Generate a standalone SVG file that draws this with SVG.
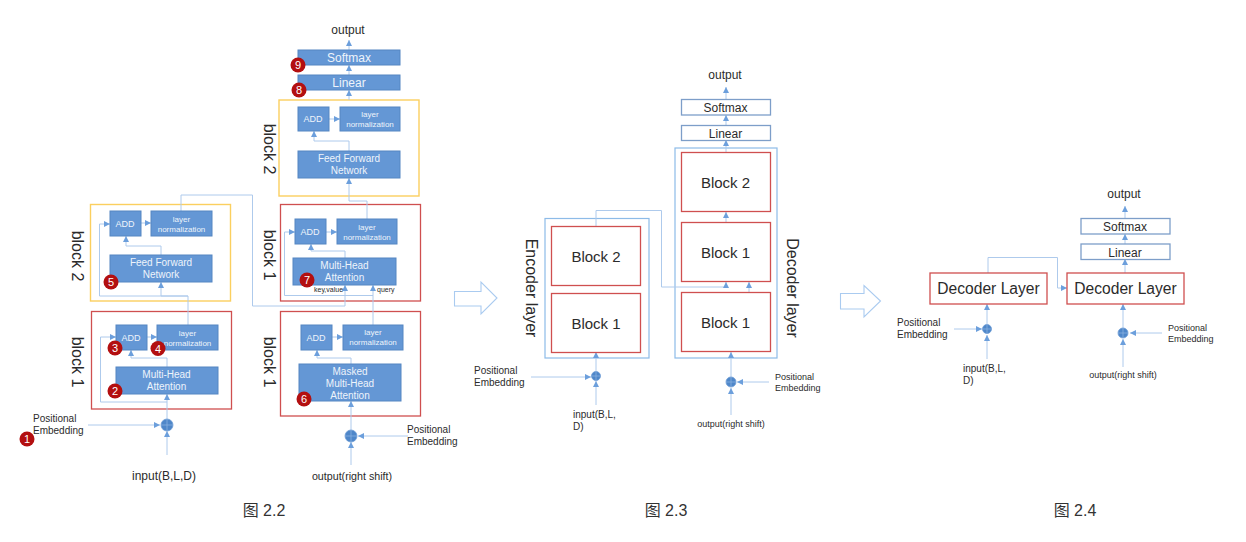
<svg xmlns="http://www.w3.org/2000/svg" width="1246" height="542" viewBox="0 0 1246 542">
<style>
text{font-family:"Liberation Sans","Noto Sans CJK SC",sans-serif;fill:#2b2b2b}
.c{text-anchor:middle}
.b{fill:#6497d5;stroke:#5586c2;stroke-width:1}
.b+text,.w{fill:#eef4fb;text-anchor:middle}
.y{fill:none;stroke:#fbcf5f;stroke-width:1.4}
.r{fill:#fff;stroke:#cf4f4f;stroke-width:1.3}
.rn{fill:none;stroke:#cf4f4f;stroke-width:1.3}
.o{fill:#fff;stroke:#7d9ec9;stroke-width:1.3}
.e{fill:none;stroke:#8dbbe8;stroke-width:1.2}
.h{fill:none;stroke:#aacbf0;stroke-width:1.1}
.l{fill:none;stroke:#aecaec;stroke-width:1}
.a{marker-end:url(#m)}
.p{fill:#4f87c9;stroke:#6f9dd6;stroke-width:.8}
.x{stroke:#8fb4e2;stroke-width:.7}
.d{fill:#b30f10}
.n{fill:#fff;font-size:11px;text-anchor:middle}
.s8{font-size:8px}.s9{font-size:9px}.s10{font-size:10px}.s12{font-size:12px}.s15{font-size:15px}.s155{font-size:15.600px}.s16{font-size:16px}
.t{fill:#333}
</style>
<defs>
<marker id="m" markerUnits="userSpaceOnUse" markerWidth="7" markerHeight="6" refX="6" refY="3" orient="auto"><path d="M0 0L6 3L0 6Z" fill="#6c9fdc"/></marker>
</defs>

<g id="containers">
<rect class="y" x="90.500" y="204.500" width="140" height="96.500"/>
<rect class="rn" x="91.500" y="311.500" width="140" height="97.500"/>
<rect class="y" x="279" y="100" width="140" height="96"/>
<rect class="rn" x="280.500" y="204.500" width="140" height="96.500"/>
<rect class="rn" x="280.500" y="311.500" width="140" height="104.500"/>
<rect class="e" x="545" y="218.500" width="104" height="139.500"/>
<rect class="e" x="675" y="148" width="102" height="210"/>
<path id="step-arrow-1" class="h" d="M454.500 291.500H481V282L497 298L481 314V306H454.500Z"/>
<path id="step-arrow-2" class="h" d="M840.500 293.500H864V285.500L880.500 301L864 317V309H840.500Z"/>
</g>

<g id="connectors">
<path class="l a" d="M167 455V431"/>
<path class="l a" d="M88 425H160"/>
<path class="l a" d="M167 419V394"/>
<path class="l a" d="M167 402H100.500V337H116"/>
<path class="l a" d="M147 337H157"/>
<path class="l a" d="M167 367V358H131V350"/>
<path class="l a" d="M188 325V296H161V282"/>
<path class="l a" d="M188 296H99.500V224H110"/>
<path class="l a" d="M161 255V246H126V236"/>
<path class="l a" d="M141 223H151"/>
<path class="l a" d="M181 211V195H252.500V306H345V285"/>
<path class="l a" d="M351 465V442"/>
<path class="l a" d="M408 436H358"/>
<path class="l a" d="M351 430V401"/>
<path class="l a" d="M351 364V358H317V350"/>
<path class="l a" d="M332 337H343"/>
<path class="l a" d="M373 325V285"/>
<path class="l a" d="M373 295.500H284.500V232H295"/>
<path class="l a" d="M326 232H337"/>
<path class="l a" d="M345 258V251H311V244"/>
<path class="l a" d="M367 219V201H349V178"/>
<path class="l a" d="M349 151V141H314V131"/>
<path class="l a" d="M329 119H340"/>
<path class="l a" d="M349 100V90"/>
<path class="l a" d="M349 75V65"/>
<path class="l a" d="M349 50V40"/>
<path class="l a" d="M596 405V381"/>
<path class="l a" d="M531 377H591"/>
<path class="l a" d="M596 371V352"/>
<path class="l a" d="M596 226V210.500H661.500V287H726V282"/>
<path class="l a" d="M749 292V282"/>
<path class="l a" d="M726 222V212"/>
<path class="l a" d="M726 152V140"/>
<path class="l a" d="M726 125V115"/>
<path class="l a" d="M726 99V87"/>
<path class="l a" d="M731 415V388"/>
<path class="l a" d="M769 382H737"/>
<path class="l a" d="M731 377V352"/>
<path class="l a" d="M987 359V335"/>
<path class="l a" d="M954 329H982"/>
<path class="l a" d="M987 324V304"/>
<path class="l a" d="M988 273V257.500H1057.500V288H1067"/>
<path class="l a" d="M1123 367V339"/>
<path class="l a" d="M1162 333H1130"/>
<path class="l a" d="M1123 328V304"/>
<path class="l a" d="M1125 273V259"/>
<path class="l a" d="M1125 244V234"/>
<path class="l a" d="M1125 218V206"/>
</g>

<g id="fig22-encoder">
<g id="e-add2"><rect class="b" x="110" y="211" width="31" height="25"/><text class="s9" x="125" y="227">ADD</text></g>
<g id="e-norm2"><rect class="b" x="151" y="211" width="61" height="25"/><text class="s8" x="181.500" y="221.500"><tspan x="181.500">layer</tspan><tspan x="181.500" dy="10">normalization</tspan></text></g>
<g id="e-ffn"><rect class="b" x="110" y="255" width="102" height="27"/><text class="s10" x="161" y="266"><tspan x="161">Feed Forward</tspan><tspan x="161" dy="12">Network</tspan></text></g>
<g id="e-add1"><rect class="b" x="116" y="325" width="31" height="25"/><text class="s9" x="131" y="341">ADD</text></g>
<g id="e-norm1"><rect class="b" x="157" y="325" width="61" height="25"/><text class="s8" x="187.500" y="335.500"><tspan x="187.500">layer</tspan><tspan x="187.500" dy="10">normalization</tspan></text></g>
<g id="e-mha"><rect class="b" x="116" y="367" width="102" height="27"/><text class="s10" x="166.500" y="378"><tspan x="166.500">Multi-Head</tspan><tspan x="166.500" dy="12">Attention</tspan></text></g>
<g id="e-plus"><circle class="p" cx="167" cy="425" r="6"/><path class="x" d="M161 425H173M167 419V431"/></g>
</g>

<g id="fig22-decoder">
<g id="d-softmax"><rect class="b" x="298" y="50" width="102" height="15"/><text class="s12" x="349" y="62">Softmax</text></g>
<g id="d-linear"><rect class="b" x="298" y="75" width="102" height="15"/><text class="s12" x="349" y="87">Linear</text></g>
<g id="d-add3"><rect class="b" x="298" y="107" width="31" height="24"/><text class="s9" x="313" y="122">ADD</text></g>
<g id="d-norm3"><rect class="b" x="340" y="107" width="60" height="24"/><text class="s8" x="370" y="117"><tspan x="370">layer</tspan><tspan x="370" dy="10">normalization</tspan></text></g>
<g id="d-ffn"><rect class="b" x="298" y="151" width="102" height="27"/><text class="s10" x="349" y="162"><tspan x="349">Feed Forward</tspan><tspan x="349" dy="12">Network</tspan></text></g>
<g id="d-add2"><rect class="b" x="295" y="219" width="31" height="25"/><text class="s9" x="310" y="235">ADD</text></g>
<g id="d-norm2"><rect class="b" x="337" y="219" width="60" height="25"/><text class="s8" x="367" y="229.500"><tspan x="367">layer</tspan><tspan x="367" dy="10">normalization</tspan></text></g>
<g id="d-mha"><rect class="b" x="293" y="258" width="103" height="27"/><text class="s10" x="344.500" y="269"><tspan x="344.500">Multi-Head</tspan><tspan x="344.500" dy="12">Attention</tspan></text></g>
<g id="d-add1"><rect class="b" x="301" y="325" width="31" height="25"/><text class="s9" x="316" y="341">ADD</text></g>
<g id="d-norm1"><rect class="b" x="343" y="325" width="60" height="25"/><text class="s8" x="373" y="335"><tspan x="373">layer</tspan><tspan x="373" dy="10">normalization</tspan></text></g>
<g id="d-masked"><rect class="b" x="299" y="364" width="102" height="37"/><text class="s10" x="350" y="374.500"><tspan x="350">Masked</tspan><tspan x="350" dy="12">Multi-Head</tspan><tspan x="350" dy="12">Attention</tspan></text></g>
<g id="d-plus"><circle class="p" cx="351" cy="436" r="6"/><path class="x" d="M345 436H357M351 430V442"/></g>
</g>

<g id="fig23">
<g id="f3-enc-b2"><rect class="r" x="551.500" y="226.500" width="89" height="59"/><text class="c s15" x="596" y="261.500">Block 2</text></g>
<g id="f3-enc-b1"><rect class="r" x="551.500" y="293.500" width="89" height="59"/><text class="c s15" x="596" y="328.500">Block 1</text></g>
<g id="f3-dec-b2"><rect class="r" x="681.500" y="152.500" width="89" height="59"/><text class="c s15" x="725.500" y="187.500">Block 2</text></g>
<g id="f3-dec-b1a"><rect class="r" x="681.500" y="222.500" width="89" height="59"/><text class="c s15" x="725.500" y="257.500">Block 1</text></g>
<g id="f3-dec-b1b"><rect class="r" x="681.500" y="292.500" width="89" height="59"/><text class="c s15" x="725.500" y="327.500">Block 1</text></g>
<g id="f3-softmax"><rect class="o" x="681.500" y="99.500" width="89" height="15.500"/><text class="c s12" x="725.500" y="111.500">Softmax</text></g>
<g id="f3-linear"><rect class="o" x="681.500" y="125.500" width="89" height="15"/><text class="c s12" x="725.500" y="137.500">Linear</text></g>
<g id="f3-plus1"><circle class="p" cx="596" cy="376" r="4.500"/><path class="x" d="M591.500 376H600.500M596 371.500V380.500"/></g>
<g id="f3-plus2"><circle class="p" cx="731" cy="382" r="5"/><path class="x" d="M726 382H736M731 377V387"/></g>
</g>

<g id="fig24">
<g id="f4-left"><rect class="r" x="930" y="273" width="117" height="31"/><text class="c s155" x="988.500" y="294">Decoder Layer</text></g>
<g id="f4-right"><rect class="r" x="1067" y="273" width="117" height="31"/><text class="c s155" x="1125.500" y="294">Decoder Layer</text></g>
<g id="f4-softmax"><rect class="o" x="1081" y="218.500" width="89" height="15.500"/><text class="c s12" x="1125" y="231">Softmax</text></g>
<g id="f4-linear"><rect class="o" x="1081" y="244" width="89" height="15.500"/><text class="c s12" x="1125" y="256.500">Linear</text></g>
<g id="f4-plus1"><circle class="p" cx="987" cy="329" r="4.500"/><path class="x" d="M982.500 329H991.500M987 324.500V333.500"/></g>
<g id="f4-plus2"><circle class="p" cx="1123" cy="333" r="5"/><path class="x" d="M1118 333H1128M1123 328V338"/></g>
</g>

<g id="labels">
<text class="c s16" transform="translate(77 256) rotate(90)" dy="5">block 2</text>
<text class="c s16" transform="translate(77 362) rotate(90)" dy="5">block 1</text>
<text class="c s16" transform="translate(269 149) rotate(90)" dy="5">block 2</text>
<text class="c s16" transform="translate(269 255) rotate(90)" dy="5">block 1</text>
<text class="c s16" transform="translate(269 362) rotate(90)" dy="5">block 1</text>
<text class="c s16" transform="translate(531 288) rotate(90)" dy="5">Encoder layer</text>
<text class="c s16" transform="translate(792 288) rotate(90)" dy="5">Decoder layer</text>
<text class="s10" x="33" y="422">Positional</text><text class="s10" x="33" y="434">Embedding</text>
<text class="c s12" x="164" y="480">input(B,L,D)</text>
<text class="c s12" x="348" y="34">output</text>
<text class="s10" x="407" y="433">Positional</text><text class="s10" x="407" y="445">Embedding</text>
<text class="c" style="font-size:10.700px" x="352" y="480">output(right shift)</text>
<text style="font-size:7px" x="314" y="292">key,value</text>
<text style="font-size:7px" x="377" y="292">query</text>
<text class="c s12" x="725" y="79">output</text>
<text class="s10" x="474" y="374">Positional</text><text class="s10" x="474" y="386">Embedding</text>
<text class="s10" x="573" y="418">input(B,L,</text><text class="s10" x="573" y="430">D)</text>
<text class="s9" x="775" y="380">Positional</text><text class="s9" x="775" y="391">Embedding</text>
<text class="c s9" x="731" y="427">output(right shift)</text>
<text class="c s12" x="1124" y="198">output</text>
<text class="s10" x="897" y="326">Positional</text><text class="s10" x="897" y="338">Embedding</text>
<text class="s10" x="963" y="372">input(B,L,</text><text class="s10" x="963" y="384">D)</text>
<text class="s9" x="1168" y="331">Positional</text><text class="s9" x="1168" y="342">Embedding</text>
<text class="c s9" x="1123" y="378">output(right shift)</text>
<text class="c s16 t" x="264" y="516">图 2.2</text>
<text class="c s16 t" x="666" y="516">图 2.3</text>
<text class="c s16 t" x="1075" y="516">图 2.4</text>
</g>

<g id="badges">
<g id="badge-1"><circle class="d" cx="27" cy="439" r="7.500"/><text class="n" x="27" y="443">1</text></g>
<g id="badge-2"><circle class="d" cx="115" cy="391" r="7.500"/><text class="n" x="115" y="395">2</text></g>
<g id="badge-3"><circle class="d" cx="115" cy="348" r="7.500"/><text class="n" x="115" y="352">3</text></g>
<g id="badge-4"><circle class="d" cx="158" cy="348.500" r="7.500"/><text class="n" x="158" y="352.500">4</text></g>
<g id="badge-5"><circle class="d" cx="111" cy="282" r="7.500"/><text class="n" x="111" y="286">5</text></g>
<g id="badge-6"><circle class="d" cx="304" cy="399" r="7.500"/><text class="n" x="304" y="403">6</text></g>
<g id="badge-7"><circle class="d" cx="307" cy="280" r="7.500"/><text class="n" x="307" y="284">7</text></g>
<g id="badge-8"><circle class="d" cx="299" cy="90" r="7.500"/><text class="n" x="299" y="94">8</text></g>
<g id="badge-9"><circle class="d" cx="298" cy="65" r="7.500"/><text class="n" x="298" y="69">9</text></g>
</g>
</svg>
